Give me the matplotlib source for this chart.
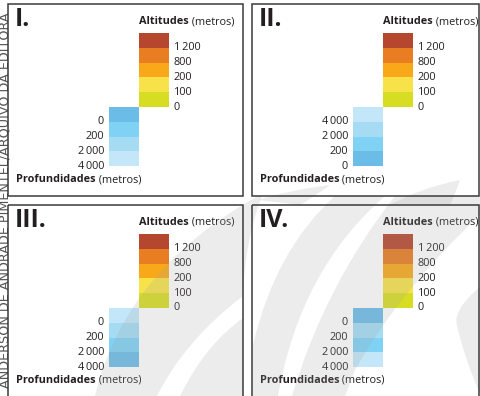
import matplotlib
matplotlib.use("Agg")
import matplotlib.pyplot as plt
from matplotlib.patches import Rectangle, PathPatch
from matplotlib.path import Path

plt.rcParams['font.family'] = ['Open Sans', 'DejaVu Sans']

# ---------------- data ----------------
panel_titles = ["I.", "II.", "III.", "IV."]
altitude_labels = ["1\u2009200", "800", "200", "100", "0"]
altitude_colors = ["#b5472e", "#e87d22", "#f9a81a", "#f7e24a", "#d7dd23"]

depth_labels_I = ["0", "200", "2\u2009000", "4\u2009000"]
depth_labels_II = ["4\u2009000", "2\u2009000", "200", "0"]
depth_labels_III = ["0", "200", "2\u2009000", "4\u2009000"]
depth_labels_IV = ["0", "200", "2\u2009000", "4\u2009000"]

depth_colors_I = ["#6bbde8", "#80d2f5", "#a5dcf3", "#c3e7f8"]
depth_colors_II = ["#c3e7f8", "#a5dcf3", "#80d2f5", "#6bbde8"]
depth_colors_III = ["#c3e7f8", "#a5dcf3", "#80d2f5", "#6bbde8"]
depth_colors_IV = ["#6bbde8", "#a5dcf3", "#80d2f5", "#c3e7f8"]

depth_labels = [depth_labels_I, depth_labels_II, depth_labels_III, depth_labels_IV]
depth_colors = [depth_colors_I, depth_colors_II, depth_colors_III, depth_colors_IV]

credit = "ANDERSON DE ANDRADE PIMENTEL/ARQUIVO DA EDITORA"

# ---------------- layout ----------------
W, H = 481, 396
fig = plt.figure(figsize=(W / 100, H / 100), dpi=100)
ax = fig.add_axes([0, 0, 1, 1])
ax.set_xlim(0, W)
ax.set_ylim(H, 0)
ax.axis("off")

TXT = "#231f20"
FS = 7.8
panels = [(8, 4, 243, 196), (252, 4, 479, 196), (8, 205, 243, 400), (252, 205, 479, 400)]
box_w = 30
box_h = 14.8

for i, (x0, y0, x1, y1) in enumerate(panels):
    ax.add_patch(Rectangle((x0, y0), x1 - x0, y1 - y0, fill=False,
                           edgecolor="#3a3a3a", linewidth=1.1, zorder=5))
    ax.text(x0 + 7, y0 + 15.5, panel_titles[i], fontsize=18, fontweight="bold",
            color=TXT, va="center", ha="left")
    a_left = x0 + 131
    top = y0 + 29
    # altitude column
    n_alt = len(altitude_colors)
    bottoms = [top + k * box_h for k in range(n_alt)]
    ax.bar([a_left + box_w / 2] * n_alt, [box_h] * n_alt, bottom=bottoms,
           width=box_w, color=altitude_colors, linewidth=0, zorder=2)
    for k, lab in enumerate(altitude_labels):
        ax.text(a_left + box_w + 5, bottoms[k] + box_h, lab, fontsize=FS,
                color=TXT, va="center", ha="left")
    # title
    t = ax.text(a_left, y0 + 23, "Altitudes", fontsize=FS, fontweight="bold",
                color=TXT, va="bottom", ha="left")
    ax.annotate(" (metros)", xy=(1, 0), xycoords=t, fontsize=FS,
                color=TXT, va="bottom", ha="left")
    # depth column
    dtop = top + n_alt * box_h
    dl = a_left - box_w
    n_d = len(depth_colors[i])
    dbottoms = [dtop + k * box_h for k in range(n_d)]
    ax.bar([dl + box_w / 2] * n_d, [box_h] * n_d, bottom=dbottoms,
           width=box_w, color=depth_colors[i], linewidth=0, zorder=2)
    for k, lab in enumerate(depth_labels[i]):
        ax.text(dl - 5, dbottoms[k] + box_h, lab, fontsize=FS,
                color=TXT, va="center", ha="right")
    t2 = ax.text(x0 + 8, y0 + 181, "Profundidades", fontsize=FS, fontweight="bold",
                 color=TXT, va="bottom", ha="left")
    ax.annotate(" (metros)", xy=(1, 0), xycoords=t2, fontsize=FS,
                color=TXT, va="bottom", ha="left")

ax.text(5, 200, credit, rotation=90, fontsize=9.2, color="#555555",
        va="center", ha="center", family="DejaVu Sans")

# ---------------- faint watermark swooshes ----------------
def swoosh(segs, alpha=0.2):
    verts, codes = [], []
    for s in segs:
        if s[0] == "M":
            verts.append(s[1]); codes.append(Path.MOVETO)
        elif s[0] == "L":
            verts.append(s[1]); codes.append(Path.LINETO)
        elif s[0] == "Q":
            verts += [s[1], s[2]]; codes += [Path.CURVE3, Path.CURVE3]
    verts.append(verts[0]); codes.append(Path.CLOSEPOLY)
    ax.add_patch(PathPatch(Path(verts, codes), facecolor="#a3a3a3", alpha=alpha,
                           edgecolor="none", zorder=4))

# panel III main band
swoosh([("M", (95, 396)), ("Q", (125, 270), (258, 196)), ("L", (262, 196)),
        ("Q", (245, 240), (243, 296)), ("Q", (185, 340), (157, 396))])
# panel III second band
swoosh([("M", (180, 396)), ("Q", (205, 345), (243, 318)), ("L", (243, 396))])
# panel IV left band
swoosh([("M", (253, 345)), ("Q", (275, 250), (335, 196)), ("L", (385, 196)),
        ("Q", (300, 270), (278, 396)), ("L", (253, 396))])
# panel IV right band
swoosh([("M", (292, 396)), ("Q", (325, 285), (395, 196)), ("L", (481, 196)),
        ("L", (481, 214)), ("Q", (400, 290), (355, 370)), ("L", (345, 396))])
# panel IV right wedge
swoosh([("M", (481, 286)), ("Q", (452, 310), (457, 326)), ("Q", (465, 360), (481, 396))])
# panel II bottom arcs
swoosh([("M", (258, 200)), ("Q", (290, 190), (330, 185)), ("Q", (320, 193), (300, 205))])
swoosh([("M", (390, 205)), ("Q", (420, 188), (460, 180)), ("Q", (455, 195), (450, 205))])

fig.savefig("out.png", dpi=100)
